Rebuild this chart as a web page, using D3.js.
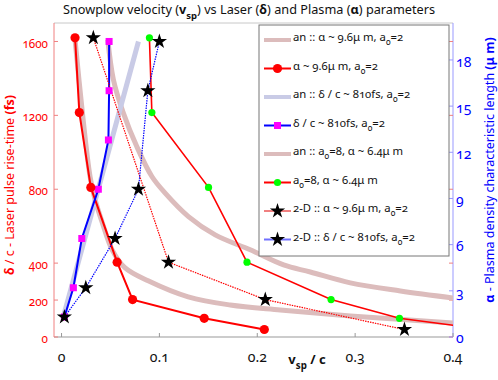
<!DOCTYPE html>
<html><head><meta charset="utf-8">
<script src="https://cdn.jsdelivr.net/npm/d3@7"></script>
<style>
body{margin:0;background:#fff;}
text{font-family:"Noto Sans",sans-serif;font-variant-numeric:oldstyle-nums;}
</style></head><body>
<svg id="chart" width="498" height="380"></svg>
<script>
// ---------- data ----------
const leftTicks=[0,200,400,800,1200,1600];
const rightTicks=[0,3,6,9,12,15,18];
const xTicks=[0,0.1,0.2,0.3,0.4];

// simulations vs left axis (delta/c in fs)
const tRise=[1620,1215,810,405,202.5,101.25,40.5];
const vAlpha96=[0.0138,0.0182,0.0299,0.0568,0.0726,0.1458,0.2072];
const vA8=[0.0898,0.0923,0.1502,0.1895,0.2754,0.3453,0.433];
const t2D=[1620,405,202.5,40.5];
const v2DAlpha=[0.0325,0.1093,0.2082,0.3504];

// simulations vs right axis (alpha in um)
const alphaVals=[19.2,16,12.8,9.6,6.4,3.2,1.3];
const vDelta810=[0.0486,0.0486,0.0479,0.0376,0.0207,0.0121,0.0029];
const alpha2D=[19.2,16,9.6,6.4,3.2,1.3];
const v2DDelta=[0.1,0.0882,0.0786,0.0547,0.0248,0.0029];

// analytic curves
const anAlpha96T=[1610,1230,867,743,623,472,374,304,217,173,146,114,76];
const anAlpha96V=[0.0138,0.0210,0.0292,0.0343,0.0414,0.0517,0.0650,0.0885,0.1294,0.1724,0.2235,0.2951,0.4005];
const anA8T=[1610,1393,1212,1031,869,779,652,553,472,390,352,293,249,211];
const anA8V=[0.0473,0.0530,0.0632,0.0769,0.0923,0.1059,0.1297,0.1570,0.1928,0.2269,0.2542,0.2951,0.3463,0.4005];
const anDeltaA=[1.3,9.6,19.2];
const anDeltaV=[0.0018,0.0375,0.0786];

// ---------- layout ----------
const svg=d3.select("#chart");
const L=54,R=453,T=23,B=337;
const x=d3.scaleLinear().domain([-0.0077,0.4]).range([L,R]);
const yL=d3.scaleLinear().domain([0,1700]).range([B,T]);
const yR=d3.scaleLinear().domain([0,20.4]).range([B,T]);

const RED="#ff0000", BLUE="#0000ff", PINK="#dcbcbc", LAV="#c9cbe6";

svg.append("defs").append("clipPath").attr("id","clip")
  .append("rect").attr("x",L).attr("y",T).attr("width",R-L).attr("height",B-T);

// frame
svg.append("line").attr("x1",L).attr("x2",R).attr("y1",T).attr("y2",T).attr("stroke","#c8c8c8");
svg.append("line").attr("x1",L).attr("x2",R).attr("y1",B).attr("y2",B).attr("stroke","#999");
svg.append("line").attr("x1",L).attr("x2",L).attr("y1",T).attr("y2",B).attr("stroke","#f08080");
svg.append("line").attr("x1",R).attr("x2",R).attr("y1",T).attr("y2",B).attr("stroke","#9999ff");

// ticks
const tk=svg.append("g");
leftTicks.forEach(v=>{
  tk.append("line").attr("x1",L).attr("x2",L+4).attr("y1",yL(v)).attr("y2",yL(v)).attr("stroke","#f08080");
  tk.append("line").attr("x1",R).attr("x2",R-4).attr("y1",yL(v)).attr("y2",yL(v)).attr("stroke","#f08080");
  tk.append("text").attr("x",L-6).attr("y",yL(v)+3).attr("dominant-baseline","middle")
    .attr("text-anchor","end").attr("fill",RED).attr("font-size",11.7).text(v);
});
rightTicks.forEach(v=>{
  tk.append("line").attr("x1",R).attr("x2",R-4).attr("y1",yR(v)).attr("y2",yR(v)).attr("stroke","#9999ff");
  tk.append("text").attr("x",R+3).attr("y",yR(v)+(v===0?2:3)).attr("dominant-baseline","middle")
    .attr("text-anchor","start").attr("fill",BLUE).attr("font-size",14).text(v);
});
xTicks.forEach(v=>{
  tk.append("line").attr("x1",x(v)).attr("x2",x(v)).attr("y1",B).attr("y2",B-4).attr("stroke","#999");
  tk.append("text").attr("x",x(v)).attr("y",358).attr("dominant-baseline","middle")
    .attr("text-anchor","middle").attr("fill","#111").attr("font-size",14).text(v===0?"0":d3.format(".1f")(v));
});

// helper for rich text
function rich(sel,parts){
  parts.forEach(p=>{
    const t=sel.append("tspan").text(p.t);
    if(p.b) t.attr("font-weight","bold");
    if(p.sub) t.attr("font-size","0.75em").attr("dy",p.dy||4);
    if(p.up) t.attr("dy",-(p.up));
  });
  return sel;
}

// title
rich(svg.append("text").attr("x",249).attr("y",14).attr("text-anchor","middle").attr("font-size",12.7).attr("fill","#111"),
 [{t:"Snowplow velocity ("},{t:"v",b:1},{t:"sp",b:1,sub:1,dy:5},{t:") vs Laser (",up:5},{t:"δ",b:1},{t:") and Plasma ("},{t:"α",b:1},{t:") parameters"}]);

// axis titles
rich(svg.append("text").attr("transform","translate(14,185) rotate(-90)").attr("text-anchor","middle")
  .attr("font-size",12.5).attr("fill",RED),
  [{t:"δ",b:1},{t:" / c - Laser pulse rise-time  "},{t:"(fs)",b:1}]);
rich(svg.append("text").attr("transform","translate(494,170) rotate(-90)").attr("text-anchor","middle")
  .attr("font-size",12.5).attr("fill",BLUE),
  [{t:"α",b:1},{t:" - Plasma density characteristic length  "},{t:"(μ m)",b:1}]);
rich(svg.append("text").attr("x",307).attr("y",364).attr("text-anchor","middle")
  .attr("font-size",13).attr("fill","#111"),
  [{t:"v",b:1},{t:"sp",b:1,sub:1,dy:5},{t:" / c",b:1,up:5}]);

// ---------- data marks ----------
const plot=svg.append("g").attr("clip-path","url(#clip)");
const lineL=d3.line().x(d=>x(d[0])).y(d=>yL(d[1]));
const lineR=d3.line().x(d=>x(d[0])).y(d=>yR(d[1]));
const smoothL=d3.line().x(d=>x(d[0])).y(d=>yL(d[1])).curve(d3.curveCatmullRom);
const zip=(a,b)=>a.map((v,i)=>[v,b[i]]);

// analytic bands
plot.append("path").attr("d",smoothL(zip(anAlpha96V,anAlpha96T))).attr("fill","none").attr("stroke",PINK).attr("stroke-width",5);
plot.append("path").attr("d",smoothL(zip(anA8V,anA8T))).attr("fill","none").attr("stroke",PINK).attr("stroke-width",5);
plot.append("path").attr("d",lineR(zip(anDeltaV,anDeltaA))).attr("fill","none").attr("stroke",LAV).attr("stroke-width",5);

// simulation lines
plot.append("path").attr("d",lineL(zip(vAlpha96,tRise))).attr("fill","none").attr("stroke",RED).attr("stroke-width",2);
plot.append("path").attr("d",lineL(zip(vA8,tRise))).attr("fill","none").attr("stroke",RED).attr("stroke-width",1.6);
plot.append("path").attr("d",lineR(zip(vDelta810,alphaVals))).attr("fill","none").attr("stroke",BLUE).attr("stroke-width",2);
plot.append("path").attr("d",lineL(zip(v2DAlpha,t2D))).attr("fill","none").attr("stroke",RED).attr("stroke-width",1.2).attr("stroke-dasharray","1.5,1");
plot.append("path").attr("d",lineR(zip(v2DDelta,alpha2D))).attr("fill","none").attr("stroke",BLUE).attr("stroke-width",1.2).attr("stroke-dasharray","1.5,1");

// markers
const star=d3.symbol().type(d3.symbolStar).size(72);
plot.selectAll(".sq").data(zip(vDelta810,alphaVals)).join("rect")
  .attr("x",d=>x(d[0])-3.5).attr("y",d=>yR(d[1])-3.5).attr("width",7).attr("height",7).attr("fill","#ff00ff");
plot.selectAll(".rc").data(zip(vAlpha96,tRise)).join("circle")
  .attr("cx",d=>x(d[0])).attr("cy",d=>yL(d[1])).attr("r",4.6).attr("fill",RED);
plot.selectAll(".gc").data(zip(vA8,tRise)).join("circle")
  .attr("cx",d=>x(d[0])).attr("cy",d=>yL(d[1])).attr("r",3.6).attr("fill","#00ff00");
plot.selectAll(".s1").data(zip(v2DAlpha,t2D)).join("path")
  .attr("transform",d=>`translate(${x(d[0])},${yL(d[1])})`).attr("d",star).attr("fill","#000");
plot.selectAll(".s2").data(zip(v2DDelta,alpha2D)).join("path")
  .attr("transform",d=>`translate(${x(d[0])},${yR(d[1])})`).attr("d",star).attr("fill","#000");

// ---------- legend ----------
const lg=svg.append("g");
lg.append("rect").attr("x",259).attr("y",25).attr("width",190).attr("height",231)
  .attr("fill","#fff").attr("stroke","#777");
const sub0=(pre,post)=>[{t:pre},{t:"0",sub:1,dy:4},{t:post,up:4}];
const legendItems=[
 {line:PINK,w:4,mk:null,parts:sub0("an :: α ~ 9.6μ m, a","=2")},
 {line:RED,w:2,mk:"rc",parts:sub0("α ~ 9.6μ m, a","=2")},
 {line:LAV,w:4,mk:null,parts:sub0("an :: δ / c ~ 810fs, a","=2")},
 {line:BLUE,w:2,mk:"sq",parts:sub0("δ / c ~ 810fs, a","=2")},
 {line:PINK,w:4,mk:null,parts:sub0("an :: a","=8, α ~ 6.4μ m")},
 {line:RED,w:2,mk:"gc",parts:sub0("a","=8, α ~ 6.4μ m")},
 {line:"#f08080",w:2,mk:"st",parts:sub0("2-D :: α ~ 9.6μ m, a","=2")},
 {line:"#7070ff",w:2,mk:"st",parts:sub0("2-D :: δ / c ~ 810fs, a","=2")}
];
legendItems.forEach((it,i)=>{
  const y=40+i*28.5;
  lg.append("line").attr("x1",264).attr("x2",291).attr("y1",y).attr("y2",y).attr("stroke",it.line).attr("stroke-width",it.w);
  const cx=277.5;
  if(it.mk==="rc") lg.append("circle").attr("cx",cx).attr("cy",y).attr("r",4.6).attr("fill",RED);
  if(it.mk==="gc") lg.append("circle").attr("cx",cx).attr("cy",y).attr("r",3.6).attr("fill","#00ff00");
  if(it.mk==="sq") lg.append("rect").attr("x",cx-3.5).attr("y",y-3.5).attr("width",7).attr("height",7).attr("fill","#ff00ff");
  if(it.mk==="st") lg.append("path").attr("transform",`translate(${cx},${y})`).attr("d",star).attr("fill","#000");
  rich(lg.append("text").attr("x",293).attr("y",y+1).attr("font-size",11.3).attr("fill","#111"),it.parts);
});
</script>
</body></html>
